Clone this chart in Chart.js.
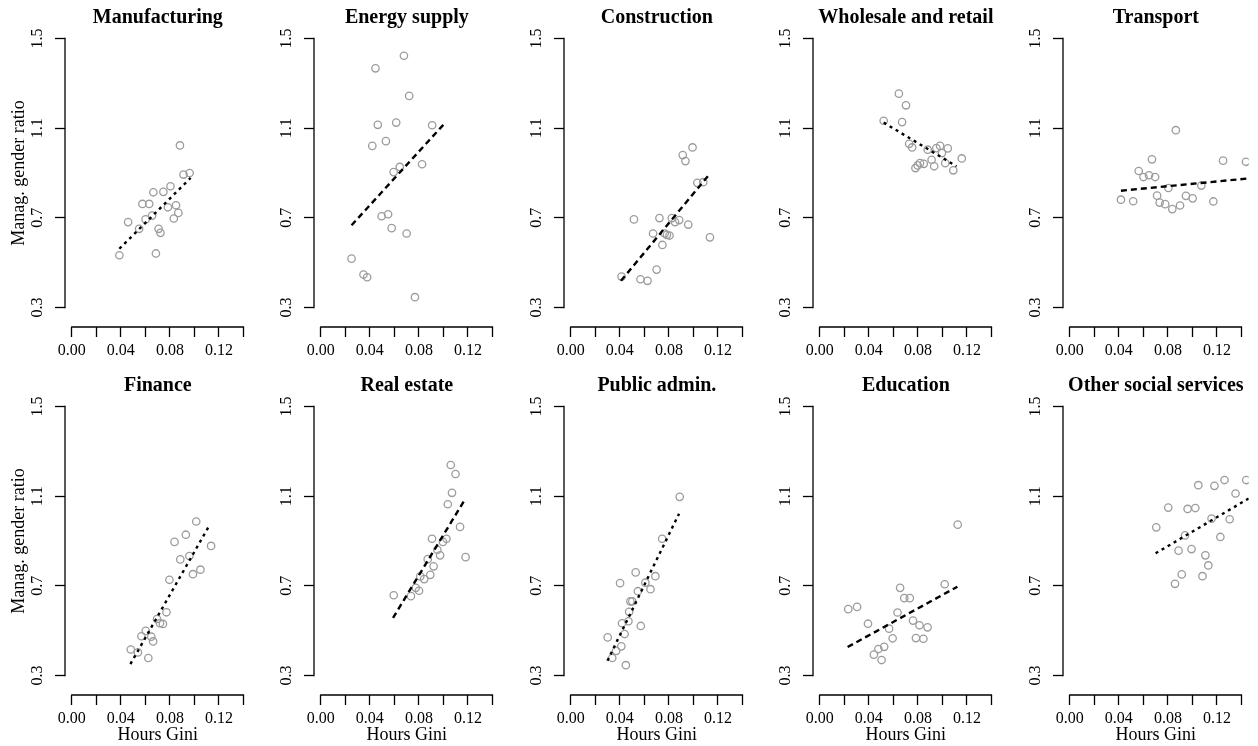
<!DOCTYPE html>
<html><head><meta charset="utf-8">
<script src="https://cdn.jsdelivr.net/npm/chart.js@4.4.0/dist/chart.umd.min.js"></script>
<style>
html,body{margin:0;padding:0;background:#fff;overflow:hidden;width:1258px;height:746px;position:relative;}
.p{position:absolute;width:256px;height:378px;}
canvas{display:block;}
</style></head><body>
<script>
// ---------- data ----------
const sectors = ['Manufacturing','Energy supply','Construction','Wholesale and retail','Transport',
                 'Finance','Real estate','Public admin.','Education','Other social services'];
const xTickVals = [0,0.02,0.04,0.06,0.08,0.10,0.12,0.14];
const xTickLabels = ['0.00','','0.04','','0.08','','0.12',''];
const yTickVals = [0.3,0.7,1.1,1.5];
const yTickLabels = ['0.3','0.7','1.1','1.5'];
const xTitle = 'Hours Gini';
const yTitle = 'Manag. gender ratio';

const xManufacturing = [0.0388,0.0459,0.0549,0.0576,0.0631,0.0602,0.0655,0.0665,0.0686,0.0708,0.0723,0.0747,0.0784,0.0805,0.0832,0.0850,0.0869,0.0882,0.0911,0.0961];
const yManufacturing = [0.533,0.681,0.651,0.762,0.762,0.693,0.710,0.814,0.541,0.651,0.633,0.816,0.747,0.841,0.697,0.756,0.722,1.023,0.893,0.900];
const trendXManufacturing = [0.0388,0.0969];
const trendYManufacturing = [0.562,0.878];

const xEnergy = [0.0251,0.0348,0.0378,0.0420,0.0446,0.0465,0.0496,0.0531,0.0549,0.0578,0.0594,0.0615,0.0644,0.0678,0.0700,0.0721,0.0768,0.0826,0.0908];
const yEnergy = [0.518,0.447,0.435,1.021,1.367,1.115,0.707,1.042,0.716,0.654,0.904,1.125,0.927,1.423,0.630,1.244,0.346,0.939,1.113];
const trendXEnergy = [0.0251,0.1011];
const trendYEnergy = [0.667,1.122];

const xConstruction = [0.0414,0.0515,0.0568,0.0626,0.0671,0.0700,0.0723,0.0747,0.0766,0.0784,0.0805,0.0824,0.0850,0.0884,0.0913,0.0935,0.0958,0.0993,0.1032,0.1080,0.1135];
const yConstruction = [0.438,0.693,0.426,0.419,0.630,0.469,0.699,0.579,0.630,0.624,0.621,0.699,0.681,0.690,0.980,0.953,0.670,1.014,0.856,0.859,0.613];
const trendXConstruction = [0.0409,0.1135];
const trendYConstruction = [0.419,0.897];

const xWholesale = [0.0521,0.0645,0.0671,0.0703,0.0729,0.0753,0.0780,0.0798,0.0817,0.0848,0.0880,0.0912,0.0933,0.0951,0.0981,0.0996,0.1023,0.1044,0.1089,0.1158];
const yWholesale = [1.133,1.254,1.127,1.202,1.030,1.014,0.922,0.934,0.944,0.941,1.004,0.959,0.930,1.011,1.021,0.989,0.944,1.010,0.912,0.965];
const trendXWholesale = [0.0521,0.1115];
const trendYWholesale = [1.125,0.930];

const xTransport = [0.0417,0.0517,0.0562,0.0601,0.0646,0.0670,0.0696,0.0712,0.0733,0.0778,0.0804,0.0836,0.0865,0.0899,0.0947,0.1002,0.1073,0.1171,0.1250,0.1437];
const yTransport = [0.781,0.774,0.909,0.882,0.890,0.961,0.882,0.799,0.768,0.761,0.833,0.739,1.091,0.755,0.798,0.787,0.844,0.773,0.955,0.950];
const trendXTransport = [0.0417,0.1460];
const trendYTransport = [0.821,0.876];

const xFinance = [0.0481,0.0539,0.0568,0.0603,0.0624,0.0648,0.0663,0.0695,0.0719,0.0743,0.0772,0.0796,0.0838,0.0885,0.0930,0.0959,0.0988,0.1015,0.1049,0.1136];
const yFinance = [0.416,0.403,0.475,0.499,0.378,0.473,0.452,0.552,0.533,0.530,0.582,0.727,0.896,0.818,0.928,0.833,0.752,0.987,0.772,0.878];
const trendXFinance = [0.0478,0.1126];
const trendYFinance = [0.351,0.973];

const xRealEstate = [0.0595,0.0735,0.0774,0.0801,0.0811,0.0843,0.0872,0.0893,0.0907,0.0920,0.0951,0.0973,0.0996,0.1025,0.1036,0.1060,0.1070,0.1099,0.1136,0.1181];
const yRealEstate = [0.658,0.654,0.691,0.678,0.742,0.730,0.819,0.749,0.910,0.787,0.861,0.836,0.896,0.910,1.064,1.239,1.115,1.199,0.963,0.828];
const trendXRealEstate = [0.0589,0.1181];
const trendYRealEstate = [0.557,1.090];

const xPublicAdmin = [0.0301,0.0338,0.0370,0.0402,0.0412,0.0418,0.0439,0.0449,0.0470,0.0476,0.0486,0.0502,0.0529,0.0547,0.0571,0.0608,0.0650,0.0690,0.0745,0.0888];
const yPublicAdmin = [0.470,0.378,0.410,0.712,0.430,0.533,0.485,0.346,0.542,0.584,0.631,0.631,0.760,0.676,0.521,0.714,0.685,0.743,0.910,1.097];
const trendXPublicAdmin = [0.0299,0.0883];
const trendYPublicAdmin = [0.366,1.022];

const xEducation = [0.0232,0.0304,0.0393,0.0441,0.0478,0.0504,0.0525,0.0565,0.0594,0.0634,0.0655,0.0689,0.0734,0.0760,0.0784,0.0813,0.0845,0.0879,0.1019,0.1125];
const yEducation = [0.596,0.606,0.531,0.393,0.418,0.369,0.428,0.509,0.466,0.581,0.691,0.645,0.645,0.545,0.467,0.524,0.464,0.515,0.707,0.973];
const trendXEducation = [0.0227,0.1122];
const trendYEducation = [0.427,0.696];

const xOtherSocial = [0.0705,0.0803,0.0858,0.0887,0.0913,0.0940,0.0961,0.0993,0.1024,0.1048,0.1082,0.1106,0.1130,0.1156,0.1180,0.1228,0.1262,0.1304,0.1352,0.1439];
const yOtherSocial = [0.961,1.049,0.709,0.857,0.751,0.925,1.043,0.864,1.047,1.149,0.743,0.836,0.791,1.000,1.146,0.918,1.172,0.997,1.112,1.172];
const trendXOtherSocial = [0.0700,0.1460];
const trendYOtherSocial = [0.845,1.090];

// ---------- assembly ----------
const panelX = [xManufacturing,xEnergy,xConstruction,xWholesale,xTransport,xFinance,xRealEstate,xPublicAdmin,xEducation,xOtherSocial];
const panelY = [yManufacturing,yEnergy,yConstruction,yWholesale,yTransport,yFinance,yRealEstate,yPublicAdmin,yEducation,yOtherSocial];
const panelTX = [trendXManufacturing,trendXEnergy,trendXConstruction,trendXWholesale,trendXTransport,trendXFinance,trendXRealEstate,trendXPublicAdmin,trendXEducation,trendXOtherSocial];
const panelTY = [trendYManufacturing,trendYEnergy,trendYConstruction,trendYWholesale,trendYTransport,trendYFinance,trendYRealEstate,trendYPublicAdmin,trendYEducation,trendYOtherSocial];

// styles (kept apart from data)
const SHORT = [3,4], LONG = [6,4];
const dashStyles = [SHORT,LONG,LONG,SHORT,LONG,SHORT,LONG,SHORT,LONG,SHORT];
const colLeft = [0,249,499,748,998];
const rowTop = [0,368];
const FONT = "'Liberation Serif', 'Times New Roman', serif";

const rAxes = {
  id: 'rAxes',
  afterDraw(chart) {
    const {ctx} = chart; const xs = chart.scales.x, ys = chart.scales.y;
    ctx.save();
    ctx.strokeStyle = '#000'; ctx.lineWidth = 1.3; ctx.lineCap = 'square';
    const yb = xs.top;
    ctx.beginPath();
    ctx.moveTo(xs.getPixelForValue(xTickVals[0]), yb);
    ctx.lineTo(xs.getPixelForValue(xTickVals[xTickVals.length-1]), yb);
    ctx.stroke();
    const xl = ys.right;
    ctx.beginPath();
    ctx.moveTo(xl, ys.getPixelForValue(yTickVals[0]));
    ctx.lineTo(xl, ys.getPixelForValue(yTickVals[yTickVals.length-1]));
    ctx.stroke();
    ctx.restore();
  }
};

for (let i = 0; i < sectors.length; i++) {
  const row = Math.floor(i / 5), col = i % 5;
  const div = document.createElement('div');
  div.className = 'p';
  div.style.left = colLeft[col] + 'px';
  div.style.top = rowTop[row] + 'px';
  const cv = document.createElement('canvas');
  cv.width = 256; cv.height = 378;
  div.appendChild(cv); document.body.appendChild(div);

  const pts = panelX[i].map((v, k) => ({x: v, y: panelY[i][k]}));
  const trend = panelTX[i].map((v, k) => ({x: v, y: panelTY[i][k]}));

  new Chart(cv, {
    type: 'scatter',
    data: { datasets: [
      { type: 'line', data: trend, borderColor: '#000', borderWidth: 2.4, borderDash: dashStyles[i],
        borderCapStyle: 'butt', pointRadius: 0, fill: false, order: 0 },
      { data: pts, pointRadius: 3.7, pointBorderWidth: 1.3, pointBorderColor: '#9c9c9c',
        pointBackgroundColor: 'rgba(0,0,0,0)', showLine: false, order: 1 }
    ]},
    options: {
      responsive: false, animation: false, devicePixelRatio: 1,
      layout: { padding: 0 },
      plugins: {
        legend: { display: false }, tooltip: { enabled: false },
        title: { display: true, text: sectors[i], fullSize: false, color: '#000',
          font: { family: FONT, size: 20, weight: 'bold', lineHeight: 0.1 },
          padding: { top: 17, bottom: 0 } }
      },
      scales: {
        x: { type: 'linear', min: -0.00555, max: 0.14592,
          afterBuildTicks: s => { s.ticks = xTickVals.map(v => ({value: v})); },
          afterFit: s => { s.height = 51; },
          border: { display: false },
          grid: { drawOnChartArea: false, drawTicks: true, tickLength: 10, tickColor: '#000', tickWidth: 1.3, color: '#000' },
          ticks: { callback: (v, idx) => xTickLabels[idx], autoSkip: false, maxRotation: 0, minRotation: 0,
            padding: 4, color: '#000', font: { family: FONT, size: 16 } },
          title: { display: row === 1, text: xTitle, color: '#000',
            font: { family: FONT, size: 18, lineHeight: 1 }, padding: { top: 0, bottom: 2 } }
        },
        y: { type: 'linear', min: 0.213, max: 1.587,
          afterBuildTicks: s => { s.ticks = yTickVals.map(v => ({value: v})); },
          afterFit: s => { s.width = 65; },
          border: { display: false },
          grid: { drawOnChartArea: false, drawTicks: true, tickLength: 10, tickColor: '#000', tickWidth: 1.3, color: '#000' },
          ticks: { callback: (v, idx) => yTickLabels[idx], autoSkip: false, minRotation: 90, maxRotation: 90,
            crossAlign: 'center', padding: 7.4, color: '#000', font: { family: FONT, size: 16 } },
          title: { display: col === 0, text: yTitle, color: '#000',
            font: { family: FONT, size: 18, lineHeight: 1.2 }, padding: { top: 8, bottom: 0 } }
        }
      }
    },
    plugins: [rAxes]
  });
}
</script>
</body></html>
